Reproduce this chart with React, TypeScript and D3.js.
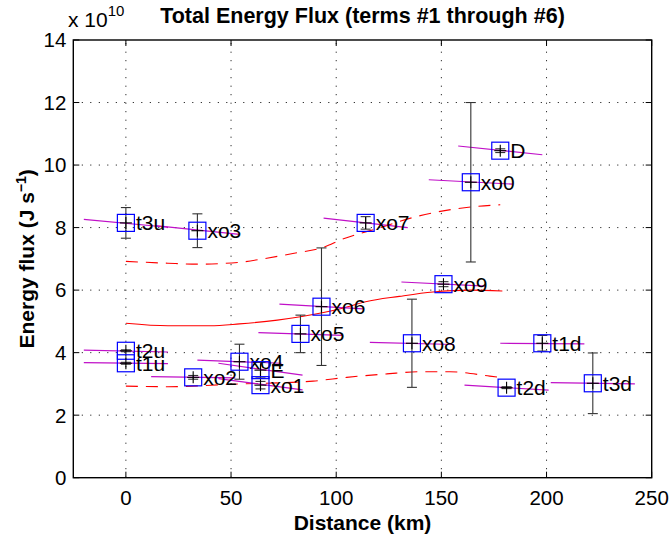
import React from 'react';
import * as d3 from 'd3';

// station labels, distance along section (km), flux (x 1e10 J/s), error
const names = ['t3u', 'xo3', 't2u', 't1u', 'xo2', 'xo4', 'E', 'xo1', 'xo5', 'xo6', 'xo7', 'xo0', 'D', 'xo9', 'xo8', 't1d', 't2d', 't3d'];
const distKm = [0, 34, 0, 0, 32, 54, 64, 64, 83, 93, 114, 164, 178, 151, 136, 198, 181, 222];
const flux = [8.15, 7.9, 4.06, 3.66, 3.21, 3.71, 3.44, 2.96, 4.6, 5.47, 8.15, 9.45, 10.46, 6.19, 4.3, 4.3, 2.88, 3.02];
const fluxErr = [0.49, 0.54, 0.03, 0.03, 0.06, 0.56, 0.25, 0.12, 0.6, 1.88, 0.2, 2.55, 0.06, 0.08, 1.41, 0.25, 0.03, 0.97];
// local trend segment, flux at -20 km and +20 km from each station
const trendLeft = [8.26, 8.06, 4.08, 3.68, 3.23, 3.76, 3.66, 3.17, 4.64, 5.55, 8.3, 9.53, 10.61, 6.26, 4.33, 4.3, 2.96, 3.04];
const trendRight = [8.01, 7.78, 4.02, 3.65, 3.19, 3.66, 3.28, 2.81, 4.55, 5.4, 8.0, 9.39, 10.33, 6.13, 4.26, 4.28, 2.8, 3.0];
const trendHalf = 20;

// fitted curves (red)
const upperX = [0, 20, 34, 54, 67, 80, 94, 103, 120, 138, 164, 178];
const upperY = [6.92, 6.86, 6.83, 6.89, 7.02, 7.18, 7.37, 7.63, 7.98, 8.35, 8.66, 8.73];
const midX = [0, 20, 40, 54, 72, 83, 103, 114, 130, 146, 164, 179];
const midY = [4.94, 4.86, 4.86, 4.92, 5.04, 5.15, 5.42, 5.63, 5.8, 5.94, 6.0, 5.97];
const lowerX = [0, 20, 51, 89, 105, 124, 140, 154, 173, 178];
const lowerY = [2.93, 2.91, 2.99, 3.09, 3.21, 3.32, 3.39, 3.39, 3.25, 3.21];

const xTicks = [0, 50, 100, 150, 200, 250];
const yTicks = [0, 2, 4, 6, 8, 10, 12, 14];

const W = 669;
const H = 539;
const margin = { top: 40, right: 17.3, bottom: 61.3, left: 73.3 };
const font = '"Liberation Sans", Arial, sans-serif';

export default function App() {
  const x = d3.scaleLinear().domain([-25, 250]).range([margin.left, W - margin.right]);
  const y = d3.scaleLinear().domain([0, 14]).range([H - margin.bottom, margin.top]);
  const [x0, x1] = x.range();
  const [y0, y1] = y.range();

  const line = d3.line<[number, number]>()
    .x(d => x(d[0]))
    .y(d => y(d[1]))
    .curve(d3.curveMonotoneX);

  const curves = [
    { xs: upperX, ys: upperY, dash: '12,8' },
    { xs: midX, ys: midY, dash: null },
    { xs: lowerX, ys: lowerY, dash: '12,8' },
  ];

  const box = 8.5;
  const plus = 6;
  const cap = 5;
  const tick = 6;

  return (
    <svg width={W} height={H} style={{ position: 'absolute', left: 0, top: 0, background: '#fff' }} fontFamily={font}>
      {/* grid */}
      {xTicks.filter(t => t > -25 && t < 250).map(t => (
        <line key={'gx' + t} x1={x(t)} x2={x(t)} y1={y0} y2={y1} stroke="#000" strokeWidth={1} strokeDasharray="1,7.5" />
      ))}
      {yTicks.filter(t => t > 0 && t < 14).map(t => (
        <line key={'gy' + t} x1={x0} x2={x1} y1={y(t)} y2={y(t)} stroke="#000" strokeWidth={1} strokeDasharray="1,7.5" />
      ))}

      {/* red curves */}
      {curves.map((c, i) => (
        <path key={'c' + i} d={line(c.xs.map((v, j) => [v, c.ys[j]]) as [number, number][]) || ''}
          fill="none" stroke="#ff0000" strokeWidth={1.1} strokeDasharray={c.dash || undefined} />
      ))}

      {/* trend segments */}
      {names.map((n, i) => (
        <line key={'t' + n} x1={x(distKm[i] - trendHalf)} x2={x(distKm[i] + trendHalf)}
          y1={y(trendLeft[i])} y2={y(trendRight[i])} stroke="#c010c8" strokeWidth={1.2} />
      ))}

      {/* error bars */}
      {names.map((n, i) => {
        const cx = x(distKm[i]);
        const top = y(flux[i] + fluxErr[i]);
        const bot = y(flux[i] - fluxErr[i]);
        return (
          <g key={'e' + n} stroke="#333" strokeWidth={1.1}>
            <line x1={cx} x2={cx} y1={top} y2={bot} />
            <line x1={cx - cap} x2={cx + cap} y1={top} y2={top} />
            <line x1={cx - cap} x2={cx + cap} y1={bot} y2={bot} />
          </g>
        );
      })}

      {/* markers */}
      {names.map((n, i) => {
        const cx = x(distKm[i]);
        const cy = y(flux[i]);
        return (
          <g key={'m' + n}>
            <line x1={cx - plus} x2={cx + plus} y1={cy} y2={cy} stroke="#000" strokeWidth={1.1} />
            <line x1={cx} x2={cx} y1={cy - plus} y2={cy + plus} stroke="#000" strokeWidth={1.1} />
            <rect x={cx - box} y={cy - box} width={box * 2} height={box * 2} fill="none" stroke="#0000ff" strokeWidth={1.2} />
            <text x={cx + box + 1.5} y={cy} dy="0.36em" fontSize={21} fill="#000">{n}</text>
          </g>
        );
      })}

      {/* axes box and ticks */}
      <rect x={x0} y={y1} width={x1 - x0} height={y0 - y1} fill="none" stroke="#000" strokeWidth={1.4} />
      {xTicks.map(t => (
        <g key={'xt' + t}>
          <line x1={x(t)} x2={x(t)} y1={y0} y2={y0 - tick} stroke="#000" strokeWidth={1} />
          <line x1={x(t)} x2={x(t)} y1={y1} y2={y1 + tick} stroke="#000" strokeWidth={1} />
          <text x={x(t)} y={y0 + 27} textAnchor="middle" fontSize={20.5}>{t}</text>
        </g>
      ))}
      {yTicks.map(t => (
        <g key={'yt' + t}>
          <line x1={x0} x2={x0 + tick} y1={y(t)} y2={y(t)} stroke="#000" strokeWidth={1} />
          <line x1={x1} x2={x1 - tick} y1={y(t)} y2={y(t)} stroke="#000" strokeWidth={1} />
          <text x={x0 - 7} y={y(t)} dy="0.36em" textAnchor="end" fontSize={20.5}>{t}</text>
        </g>
      ))}

      {/* exponent */}
      <text x={68} y={27} fontSize={21}>x 10<tspan dy={-11} fontSize={15}>10</tspan></text>

      {/* title and labels */}
      <text x={(x0 + x1) / 2} y={23} textAnchor="middle" fontSize={21.5} fontWeight="bold">Total Energy Flux (terms #1 through #6)</text>
      <text x={(x0 + x1) / 2} y={530} textAnchor="middle" fontSize={21} fontWeight="bold">Distance (km)</text>
      <text transform={`translate(34,${(y0 + y1) / 2}) rotate(-90)`} textAnchor="middle" fontSize={21} fontWeight="bold">
        Energy flux (J s<tspan dy={-8} fontSize={14}>−1</tspan><tspan dy={8}>)</tspan>
      </text>
    </svg>
  );
}
